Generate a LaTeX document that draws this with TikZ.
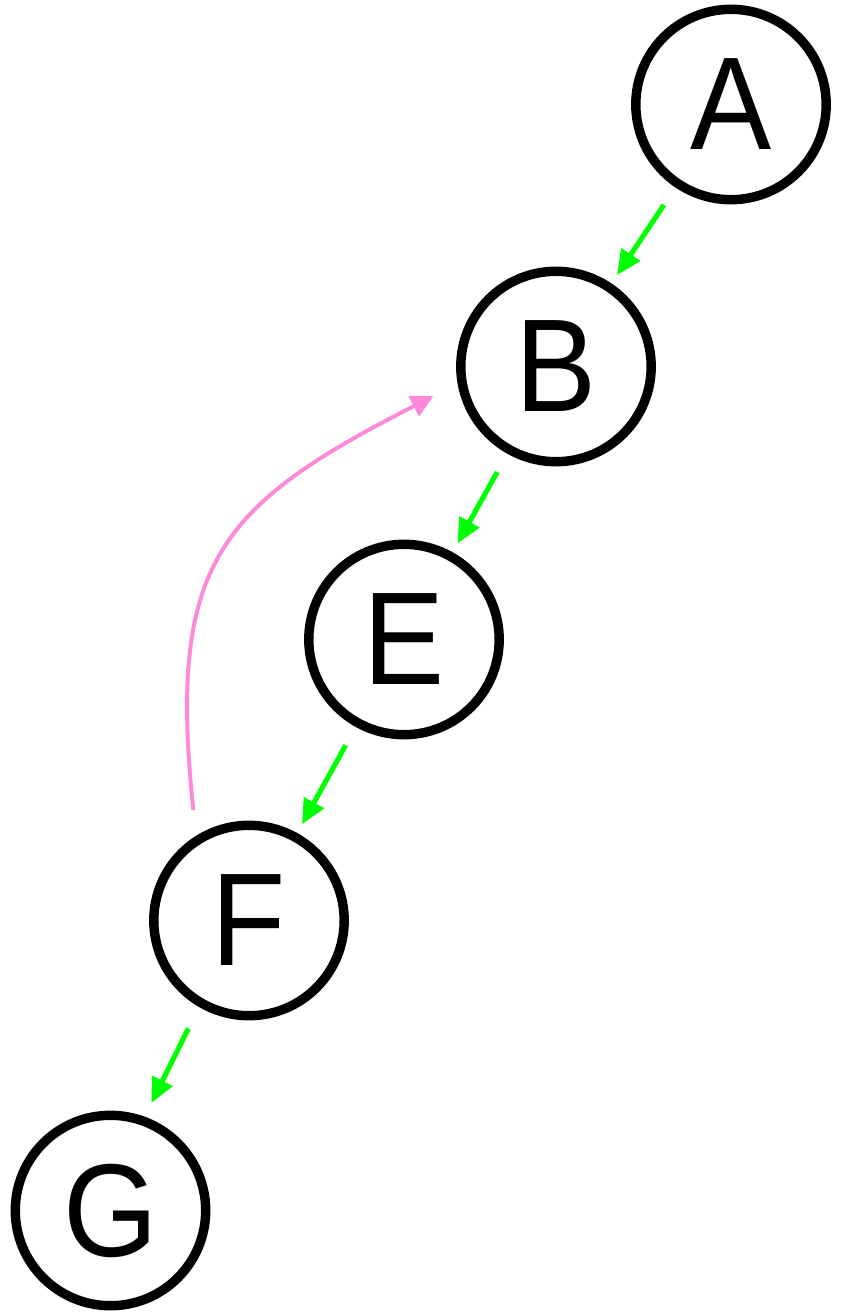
\documentclass[tikz,border=0pt]{standalone}
\usepackage{fontspec}
\setmainfont{Liberation Sans}[FakeStretch=0.92]
\usetikzlibrary{positioning,arrows.meta}

\definecolor{edgegreen}{RGB}{0,255,0}
\definecolor{backpink}{RGB}{255,136,216}

\tikzset{
  state/.style={circle, draw=black, line width=6.7pt, inner sep=0pt,
    minimum size=4.76cm, font=\fontsize{94}{94}\selectfont},
  fwd/.style={draw=edgegreen, line width=3.6pt,
    -{Triangle[length=0.62cm, width=0.55cm]},
    shorten <=0.52cm, shorten >=0.25cm},
  back/.style={draw=backpink, line width=2.8pt,
    -{Triangle[length=0.55cm, width=0.55cm]},
    shorten <=0.65cm, shorten >=0.68cm}
}

\begin{document}
\begin{tikzpicture}[node distance=2cm, on grid]
  \useasboundingbox (-18.275,-30.1875) rectangle (2.75,2.6125);

  % Nodes
  \node[state] (A) {A};
  \node[state, below left=6.55cm and 4.375cm of A] (B) {B};
  \node[state, below left=6.825cm and 3.8cm of B] (E) {E};
  \node[state, below left=7.025cm and 3.875cm of E] (F) {F};
  \node[state, below left=7.25cm and 3.4625cm of F] (G) {G};

  % Edges
  \draw[fwd] (A) -- (B);
  \draw[fwd] (B) -- (E);
  \draw[fwd] (E) -- (F);
  \draw[fwd, shorten <=0.6cm, shorten >=0.38cm] (F.240) -- (G.70);
  \draw[back] (F.122) to[out=96, in=207, out distance=6.83cm,
    in distance=6.73cm] (B.190);
\end{tikzpicture}
\end{document}
